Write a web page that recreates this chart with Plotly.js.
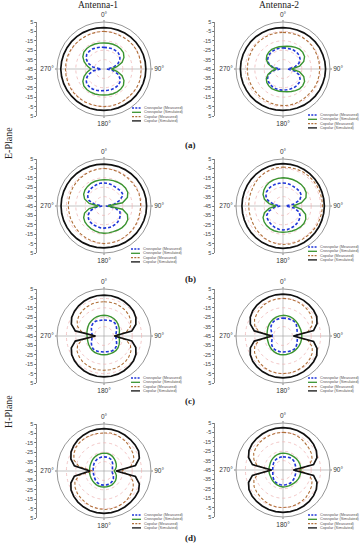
<!DOCTYPE html>
<html><head><meta charset="utf-8">
<script src="https://cdn.plot.ly/plotly-3.0.1.min.js"></script>
<style>html,body{margin:0;padding:0;background:#fff}#chart{width:360px;height:550px}</style>
</head><body><div id="chart"></div>
<script>
// ---------- DATA (dB vs angle in degrees) ----------
const theta = [0,10,20,30,40,50,60,70,80,90,100,110,120,130,140,150,160,170,180,190,200,210,220,230,240,250,260,270,280,290,300,310,320,330,340,350,360];

const seriesNames = ['Crosspolar (Measured)','Crosspolar (Simulated)','Copolar (Measured)','Copolar (Simulated)'];
const scaleVals = [-50,-40,-30,-20,-10,0,10,20,30,40,50];
const scaleText = ['5','-5','-15','-25','-35','-45','-35','-25','-15','-5','5'];
const angleVals = [0,90,180,270];
const angleText = ['0°','90°','180°','270°'];
const columnTitles = ['Antenna-1','Antenna-2'];
const rowLabels = ['(a)','(b)','(c)','(d)'];
const planeLabels = ['E-Plane','H-Plane'];

// (a) E-plane, Antenna-1
const a1_crossMeas = [-22,-22,-21.8,-21.8,-22,-23,-25.5,-29.5,-35,-42,-35,-29.5,-25.5,-23,-22,-21.8,-21.8,-22,-22,-21.5,-21,-20.5,-20.5,-21,-23,-27,-33,-42,-33,-27,-23,-21,-20.5,-20.5,-21,-21.5,-22];
const a1_crossSim  = [-17.3,-17.2,-17,-17,-17.2,-18,-20.5,-24.5,-31,-37,-31,-24.5,-20.5,-18,-17.2,-17,-17,-17.2,-17.3,-17,-16.7,-16.5,-16.5,-17,-19,-22.5,-27,-31,-27,-22.5,-19,-17,-16.5,-16.5,-16.7,-17,-17.3];
const a1_coMeas    = [-5,-5.2,-5.5,-5.5,-5.3,-5,-5,-5.2,-5.5,-5.5,-5.3,-5,-5,-5.2,-5.5,-5.3,-5,-5,-5,-5,-4.8,-4.5,-4.3,-4,-4,-4,-4,-4,-4,-4,-4.2,-4.5,-4.8,-5,-5,-5,-5];
const a1_coSim     = [-1,-1,-1,-0.9,-0.8,-0.7,-0.6,-0.5,-0.5,-0.5,-0.5,-0.6,-0.7,-0.8,-0.9,-1,-1,-1,-1,-0.8,-0.6,-0.4,-0.2,0,0.3,0.6,0.8,1,0.8,0.6,0.4,0.2,0,-0.3,-0.6,-0.8,-1];

// (a) E-plane, Antenna-2
const a2_crossMeas = [-22.5,-22.5,-22.3,-22,-22,-22.5,-24,-27,-32,-40,-32,-27,-24,-22.5,-22,-22,-22.3,-22.5,-22.5,-22.5,-22.5,-23,-23.5,-24.5,-26,-29,-34,-42,-34,-29,-26,-24.5,-23.5,-23,-22.5,-22.5,-22.5];
const a2_crossSim  = [-21,-20.5,-19.5,-18.5,-17.5,-17.5,-18.5,-21.5,-27,-36,-27,-21.5,-18.5,-17.5,-17.5,-18.5,-19.5,-20.5,-21,-21,-21,-21,-21.5,-22.5,-24.5,-28,-33,-38,-33,-28,-24.5,-22.5,-21.5,-21,-21,-21,-21];
const a2_coMeas    = [-6,-6,-5.8,-5.5,-5.5,-5.5,-5.7,-6,-6,-6,-6,-6,-6.2,-6.5,-6.5,-6.3,-6,-6,-6,-6.2,-6.5,-6.7,-6.8,-7,-7,-7,-7,-7,-7,-6.8,-6.5,-6.3,-6.2,-6,-6,-6,-6];
const a2_coSim     = [-1,-1,-0.8,-0.6,-0.4,-0.2,0,0,0.2,0.3,0.2,0,0,-0.2,-0.4,-0.6,-0.8,-1,-1,-0.8,-0.6,-0.4,-0.2,0,0,0.2,0.3,0.3,0.3,0.2,0,0,-0.2,-0.4,-0.6,-0.8,-1];

// (b) E-plane, Antenna-1
const b1_crossMeas = [-20.5,-20.5,-21,-21.5,-21.5,-21,-21.5,-27,-34,-43,-33,-27,-25,-23.5,-22.5,-22,-21.5,-21.5,-21.5,-21.5,-22,-22,-22.5,-23.5,-25.5,-29,-35,-43,-35,-28,-25,-23,-22,-21.5,-21,-20.5,-20.5];
const b1_crossSim  = [-17,-16.8,-16.3,-15.8,-15.3,-15.2,-15.8,-18.5,-25,-41,-25,-18.5,-15.8,-15,-15,-15.5,-16,-16,-16,-16.3,-16.8,-17.2,-17.8,-18.5,-20,-23,-29,-39,-29,-23,-20,-18.5,-17.8,-17.2,-17,-17,-17];
const b1_coMeas    = [-5,-5.3,-5.5,-5.8,-6,-6,-5.7,-5.5,-5.8,-6,-6.2,-6,-5.8,-5.5,-5.5,-5.3,-5,-5,-5,-5.3,-5.7,-6,-6.3,-6.7,-7,-7,-7.2,-7,-7,-6.8,-6.5,-6.2,-6,-5.7,-5.5,-5.2,-5];
const b1_coSim     = [-0.5,-0.5,-0.4,-0.3,-0.2,0,0,0.2,0.3,0.3,0.3,0.2,0,0,-0.2,-0.3,-0.4,-0.5,-0.5,-0.4,-0.2,0,0.2,0.4,0.5,0.6,0.7,0.7,0.7,0.6,0.5,0.4,0.2,0,-0.2,-0.4,-0.5];

// (b) E-plane, Antenna-2
const b2_crossMeas = [-20.5,-20.5,-21,-21.5,-21.5,-21.5,-22.5,-26,-33,-42,-33,-27,-24,-22.5,-21.5,-20.5,-20,-19.5,-19.5,-19.8,-20.5,-21.5,-22.5,-23.5,-25,-29,-35,-42,-35,-28,-24,-22,-21,-20.5,-20.5,-20.5,-20.5];
const b2_crossSim  = [-15,-15,-15,-15,-15,-15.5,-16.5,-19,-25,-34,-25,-19.5,-17,-16,-16,-16.3,-16.7,-17,-17,-17,-17,-17.3,-17.8,-18.8,-20.5,-24,-30,-37.5,-30,-24,-20.5,-18.5,-17,-16,-15.5,-15.2,-15];
const b2_coMeas    = [-3.5,-3.5,-3.2,-3,-3,-3,-3,-3,-3,-3,-3.2,-3.5,-3.5,-3.8,-4,-4,-4,-4,-4,-4.3,-4.8,-5.5,-6.5,-7.3,-8,-8.5,-8.5,-8.5,-8.3,-8,-7.5,-6.5,-5.5,-4.8,-4.2,-3.8,-3.5];
const b2_coSim     = [0,0,0,-0.2,-0.4,-0.6,-0.8,-1,-1,-1,-1,-1,-0.8,-0.6,-0.4,-0.2,0,0,0,0,-0.2,-0.4,-0.6,-0.8,-1,-1.2,-1.3,-1.3,-1.3,-1.2,-1,-0.8,-0.6,-0.4,-0.2,0,0];

// (c) H-plane, Antenna-1
const c1_crossMeas = [-28,-28,-27.5,-27,-27,-28,-29.5,-31,-32,-32.5,-32,-31,-29.5,-28,-27,-27,-27.5,-28,-28,-28,-27.5,-27,-27,-28,-29.5,-31,-32,-32.5,-32,-31,-29.5,-28,-27,-27,-27.5,-28,-28];
const c1_crossSim  = [-23,-23,-23.3,-23.8,-24.5,-25.5,-26.5,-27.5,-28.5,-29,-28.5,-27.5,-26.5,-25.5,-25,-25,-25,-25,-25,-25,-25,-25,-25.3,-25.8,-26.3,-26.8,-27,-27,-26.5,-26,-25.3,-24.5,-24,-23.5,-23.2,-23,-23];
const c1_coMeas    = [-8.5,-8.5,-8.5,-9,-9.5,-10.5,-12,-15,-21,-34,-21,-15,-12,-10.5,-9.5,-9,-8.5,-8.5,-8.5,-8.5,-8.5,-9,-9.5,-10.5,-12,-15,-21,-34,-21,-15,-12,-10.5,-9.5,-9,-8.5,-8.5,-8.5];
const c1_coSim     = [-1.5,-1.5,-1.8,-2.3,-3,-4,-5.8,-9,-15,-34,-15,-9,-5.8,-4,-3,-2.3,-1.8,-1.5,-1.5,-1.5,-1.8,-2.3,-3,-4,-5.3,-8,-14,-36,-14,-8,-5.3,-4,-3,-2.3,-1.8,-1.5,-1.5];

// (c) H-plane, Antenna-2
const c2_crossMeas = [-26,-26,-25.8,-25.5,-25.5,-26.5,-28,-29,-29.5,-30,-29.5,-29,-28,-27,-26.5,-27,-27.5,-28,-28,-28,-28,-28,-28.5,-29.5,-31,-32.5,-33.3,-33.5,-33.3,-32,-30,-28.5,-27,-26.5,-26.2,-26,-26];
const c2_crossSim  = [-23,-23,-23.2,-23.5,-24,-24.5,-25,-25,-25,-25,-25,-25,-25,-25,-25,-25,-25,-25,-25,-25,-25.3,-25.8,-26.3,-27,-27.5,-28,-28,-28,-27.8,-27.3,-26.5,-25.8,-25,-24.3,-23.7,-23.2,-23];
const c2_coMeas    = [-5,-5,-5.3,-5.8,-6.5,-7.5,-9,-12,-18,-33,-18,-12,-9,-7.5,-6.5,-5.8,-5.3,-5,-5,-5,-5.3,-6,-7,-8.5,-10,-13,-19,-34,-19,-13,-10,-8.5,-7,-6,-5.3,-5,-5];
const c2_coSim     = [-0.5,-0.5,-0.8,-1.2,-1.8,-2.5,-3.5,-6.5,-12,-34,-12,-6.5,-3.5,-2.5,-1.8,-1.2,-0.8,-0.5,-0.5,-0.5,-0.8,-1.3,-2,-3,-4.8,-8,-14,-33,-14,-8,-4.8,-3,-2,-1.3,-0.8,-0.5,-0.5];

// (d) H-plane, Antenna-1
const d1_crossMeas = [-30,-30,-30,-30.5,-31.5,-33,-34.5,-35.5,-36,-36.5,-36,-35,-33.5,-32,-31,-30.5,-30,-30,-30,-30,-30.3,-30.8,-31.5,-32.3,-33,-33.3,-33.5,-33.5,-33.3,-33,-32.3,-31.5,-31,-30.5,-30.2,-30,-30];
const d1_crossSim  = [-26,-26,-26.3,-27,-28,-29,-30,-31,-32.5,-34,-32.5,-31,-30,-29,-28.5,-28,-28,-28,-28,-28,-28,-28.3,-28.7,-29,-29.3,-29.5,-29.5,-29.5,-29.5,-29.2,-28.8,-28.2,-27.5,-27,-26.5,-26.2,-26];
const d1_coMeas    = [-4.5,-4,-4.5,-5.5,-6.5,-8,-9,-11,-16,-26,-17,-12,-9,-7.5,-6,-5,-4.5,-4,-4,-4.5,-5,-6,-7,-8,-9.5,-12,-18,-33,-18,-11,-8,-6,-5,-4.5,-4.5,-4.5,-4.5];
const d1_coSim     = [0,0,-0.3,-0.8,-1.3,-1.8,-2.5,-5,-11,-32,-11,-5,-2.5,-1.8,-1.3,-0.8,-0.3,0,0,0,-0.3,-1,-1.8,-3,-4.5,-7.5,-13,-30,-13,-7.5,-4.5,-3,-1.8,-1,-0.3,0,0];

// (d) H-plane, Antenna-2
const d2_crossMeas = [-31,-31,-30.5,-30,-29.8,-30,-30.5,-31,-31,-31.5,-31,-31,-30.5,-30,-29.5,-29,-29,-29,-29,-29,-29.3,-29.8,-30.5,-31.5,-32.5,-33.5,-34,-34,-34,-33.5,-33,-32.3,-31.8,-31.5,-31.3,-31,-31];
const d2_crossSim  = [-27,-27,-27,-27,-26.8,-26.5,-26.2,-26,-26,-26,-26,-26,-26.2,-26.5,-26.8,-27,-27,-27,-27,-27.3,-27.8,-28.3,-29,-29.5,-30,-30,-30,-30,-30,-30,-29.5,-29,-28.5,-28,-27.5,-27.2,-27];
const d2_coMeas    = [-5,-5,-5.5,-6.5,-8,-9,-10,-12,-17,-28,-17,-12,-10,-8.5,-7,-6,-5.5,-5,-5,-5,-5.5,-6.5,-7.5,-8.5,-9.5,-12,-17,-30,-17,-12,-9,-7.5,-6.5,-6,-5.5,-5,-5];
const d2_coSim     = [0,0,-0.3,-0.8,-1.5,-2.5,-4,-6.5,-12,-34,-12,-6.5,-4,-2.5,-1.5,-0.8,-0.3,0,0,0,-0.3,-0.8,-1.3,-2,-3.2,-6,-12,-33,-12,-6,-3.2,-2,-1.3,-0.8,-0.3,0,0];

// ---------- LAYOUT CONFIG ----------
const W = 360, H = 550, R = 47;
const panels = [
  {cx:104, cy:69,  xs:37,  lx:132, ly:108, data:[a1_crossMeas,a1_crossSim,a1_coMeas,a1_coSim]},
  {cx:283, cy:69,  xs:215, lx:308, ly:115, data:[a2_crossMeas,a2_crossSim,a2_coMeas,a2_coSim]},
  {cx:104, cy:206, xs:37,  lx:131, ly:249, data:[b1_crossMeas,b1_crossSim,b1_coMeas,b1_coSim]},
  {cx:283, cy:206, xs:215, lx:308, ly:247, data:[b2_crossMeas,b2_crossSim,b2_coMeas,b2_coSim]},
  {cx:104, cy:336, xs:37,  lx:131, ly:378, data:[c1_crossMeas,c1_crossSim,c1_coMeas,c1_coSim]},
  {cx:283, cy:336, xs:215, lx:308, ly:378, data:[c2_crossMeas,c2_crossSim,c2_coMeas,c2_coSim]},
  {cx:104, cy:471, xs:37,  lx:132, ly:515, data:[d1_crossMeas,d1_crossSim,d1_coMeas,d1_coSim]},
  {cx:283, cy:470, xs:215, lx:308, ly:515, data:[d2_crossMeas,d2_crossSim,d2_coMeas,d2_coSim]}
];
const styles = [
  {color:'#1f35d8', width:1.6, dash:'3px,2px'},
  {color:'#3a9430', width:1.4, dash:'solid'},
  {color:'#b0703a', width:1.1, dash:'3px,2px'},
  {color:'#111111', width:1.7, dash:'solid'}
];
const px = x => x / W;
const py = y => 1 - y / H;

const traces = [];
const layout = {
  width: W, height: H, margin: {l:0, r:0, t:0, b:0},
  paper_bgcolor: '#fff', showlegend: false,
  font: {family: 'Liberation Sans, Arial, sans-serif', color: '#333'},
  annotations: [], shapes: []
};

panels.forEach((p, i) => {
  const k = i + 1;
  const pk = k === 1 ? 'polar' : 'polar' + k;
  layout[pk] = {
    domain: {x: [px(p.cx - R), px(p.cx + R)], y: [py(p.cy + R), py(p.cy - R)]},
    bgcolor: '#fff',
    radialaxis: {range: [-45, 5], tickvals: [-35, -25, -15, -5], showticklabels: false, ticks: '',
                 showline: false, gridcolor: '#efb9b9', griddash: 'dot', gridwidth: 0.8},
    angularaxis: {rotation: 90, direction: 'clockwise', tickvals: angleVals, ticktext: angleText,
                  ticks: 'outside', ticklen: 1.5, tickcolor: '#777', linecolor: '#8a8a8a', linewidth: 0.9,
                  gridcolor: '#9a9a9a', gridwidth: 0.6,
                  tickfont: {size: 6.5, family: 'Liberation Sans, Arial', color: '#333'}}
  };
  p.data.forEach((r, j) => {
    traces.push({type: 'scatterpolar', mode: 'lines', subplot: pk, r: r, theta: theta,
                 name: seriesNames[j], showlegend: false, hoverinfo: 'skip',
                 line: {color: styles[j].color, width: styles[j].width, dash: styles[j].dash}});
  });
  // left dB scale as a cartesian axis
  const xa = 'xaxis' + (k === 1 ? '' : k), ya = 'yaxis' + (k === 1 ? '' : k);
  const xid = 'x' + (k === 1 ? '' : k), yid = 'y' + (k === 1 ? '' : k);
  layout[xa] = {domain: [px(p.xs), px(p.xs + 1)], range: [0, 1], visible: false, anchor: yid, fixedrange: true};
  layout[ya] = {domain: [py(p.cy + R), py(p.cy - R)], range: [-50, 50], anchor: xid,
                tickmode: 'array', tickvals: scaleVals, ticktext: scaleText,
                ticks: 'outside', ticklen: 2, tickwidth: 0.7, tickcolor: '#555',
                showline: true, linecolor: '#555', linewidth: 0.7, showgrid: false, zeroline: false,
                tickfont: {size: 5.5, family: 'Liberation Sans, Arial', color: '#444'},
                minor: {dtick: 5, tick0: 0, ticks: 'outside', ticklen: 1.2, tickcolor: '#777'}};
  traces.push({type: 'scatter', x: [], y: [], xaxis: xid, yaxis: yid, showlegend: false, hoverinfo: 'skip'});
  // compact legend
  seriesNames.forEach((nm, j) => {
    const y = p.ly + j * 4.3;
    layout.shapes.push({type: 'line', xref: 'paper', yref: 'paper', x0: px(p.lx), x1: px(p.lx + 9), y0: py(y), y1: py(y),
                        line: {color: styles[j].color, width: Math.min(styles[j].width, 1.3), dash: styles[j].dash === 'solid' ? 'solid' : '2px,1.3px'}});
    layout.annotations.push({xref: 'paper', yref: 'paper', x: px(p.lx + 10.5), y: py(y), xanchor: 'left', yanchor: 'middle',
                             text: nm, showarrow: false, borderpad: 0,
                             font: {size: 3.8, family: 'Liberation Sans, Arial', color: '#555'}});
  });
});

// titles and labels
const serif = 'Liberation Serif, Times New Roman, serif';
[[98, columnTitles[0]], [279, columnTitles[1]]].forEach(([x, t]) => {
  layout.annotations.push({xref: 'paper', yref: 'paper', x: px(x), y: py(5), text: t, showarrow: false,
                           xanchor: 'center', yanchor: 'middle', borderpad: 0,
                           font: {size: 9.5, family: serif, color: '#222'}});
});
[[145, rowLabels[0]], [279, rowLabels[1]], [401, rowLabels[2]], [538, rowLabels[3]]].forEach(([y, t]) => {
  layout.annotations.push({xref: 'paper', yref: 'paper', x: px(190), y: py(y), text: '<b>' + t + '</b>', showarrow: false,
                           xanchor: 'center', yanchor: 'middle', font: {size: 9, family: serif, color: '#222'}});
});
[[143, planeLabels[0]], [412, planeLabels[1]]].forEach(([y, t]) => {
  layout.annotations.push({xref: 'paper', yref: 'paper', x: px(8), y: py(y), text: t, showarrow: false, textangle: -90,
                           xanchor: 'center', yanchor: 'middle', font: {size: 10, family: serif, color: '#222'}});
});

Plotly.newPlot('chart', traces, layout, {staticPlot: true, displayModeBar: false});
</script>
</body></html>
